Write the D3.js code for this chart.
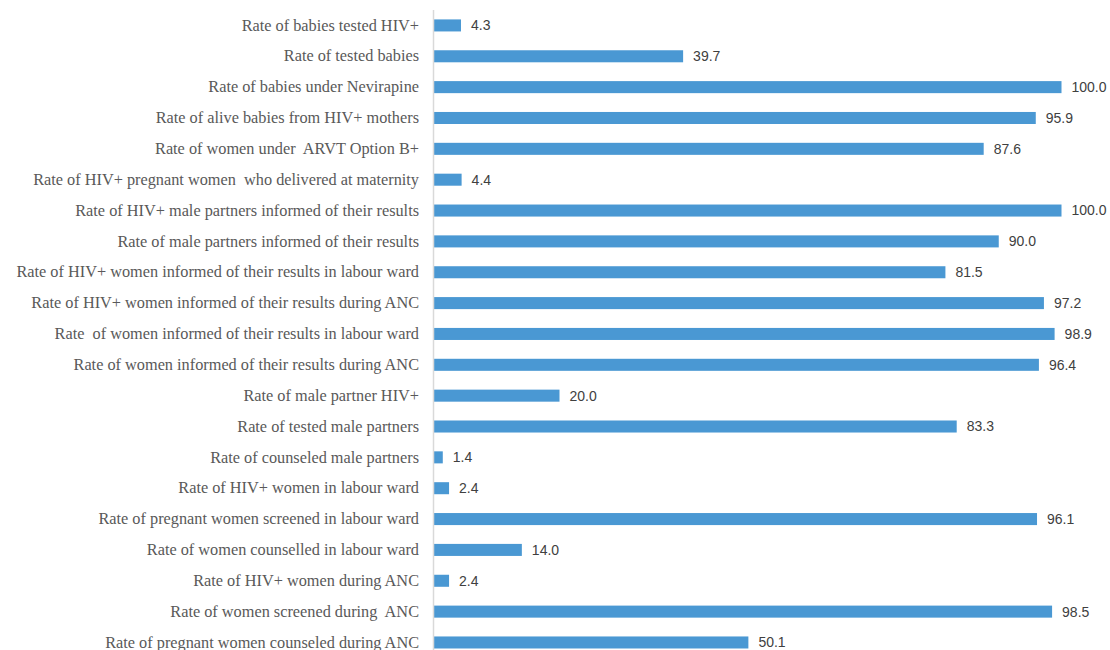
<!DOCTYPE html>
<html><head><meta charset="utf-8">
<script src="https://cdn.jsdelivr.net/npm/d3@7"></script>
<style>html,body{margin:0;padding:0;background:#fff;}svg{display:block;}</style>
</head><body>
<script>
const categories = [
  "Rate of babies tested HIV+",
  "Rate of tested babies",
  "Rate of babies under Nevirapine",
  "Rate of alive babies from HIV+ mothers",
  "Rate of women under  ARVT Option B+",
  "Rate of HIV+ pregnant women  who delivered at maternity",
  "Rate of HIV+ male partners informed of their results",
  "Rate of male partners informed of their results",
  "Rate of HIV+ women informed of their results in labour ward",
  "Rate of HIV+ women informed of their results during ANC",
  "Rate  of women informed of their results in labour ward",
  "Rate of women informed of their results during ANC",
  "Rate of male partner HIV+",
  "Rate of tested male partners",
  "Rate of counseled male partners",
  "Rate of HIV+ women in labour ward",
  "Rate of pregnant women screened in labour ward",
  "Rate of women counselled in labour ward",
  "Rate of HIV+ women during ANC",
  "Rate of women screened during  ANC",
  "Rate of pregnant women counseled during ANC"
];
const values = [4.3, 39.7, 100.0, 95.9, 87.6, 4.4, 100.0, 90.0, 81.5, 97.2, 98.9, 96.4, 20.0, 83.3, 1.4, 2.4, 96.1, 14.0, 2.4, 98.5, 50.1];

const W = 1110, H = 650;
const svg = d3.select("body").append("svg").attr("width", W).attr("height", H);

const x0 = 434, x1 = 1061.5;
const x = d3.scaleLinear().domain([0, 100]).range([x0, x1]);
const y = d3.scaleBand().domain(categories).range([10, 657.9]).paddingInner(0.61).paddingOuter(0.305);

const data = categories.map((c, i) => ({c, v: values[i]}));

svg.append("g").selectAll("rect").data(data).join("rect")
  .attr("x", x(0))
  .attr("y", d => y(d.c))
  .attr("width", d => x(d.v) - x(0))
  .attr("height", y.bandwidth())
  .attr("fill", "#4a98d3");

// axis line
svg.append("line").attr("x1", 433.5).attr("x2", 433.5).attr("y1", 10).attr("y2", H)
  .attr("stroke", "#d9d9d9").attr("stroke-width", 1.5);

// category labels
const yAxis = d3.axisLeft(y).tickSize(0).tickPadding(0);
const ga = svg.append("g").attr("transform", "translate(419,0)").call(yAxis);
ga.select(".domain").remove();
ga.selectAll("text")
  .attr("font-family", "'Liberation Serif', 'Times New Roman', serif")
  .attr("font-size", 16.3)
  .attr("fill", "#595959")
  .style("white-space", "pre");

// value labels
svg.append("g").selectAll("text").data(data).join("text")
  .attr("x", d => x(d.v) + 10)
  .attr("y", d => y(d.c) + y.bandwidth() / 2)
  .attr("dy", "0.35em")
  .attr("font-family", "'Liberation Sans', Arial, sans-serif")
  .attr("font-size", 14)
  .attr("fill", "#404040")
  .text(d => d.v.toFixed(1));
</script>
</body></html>
